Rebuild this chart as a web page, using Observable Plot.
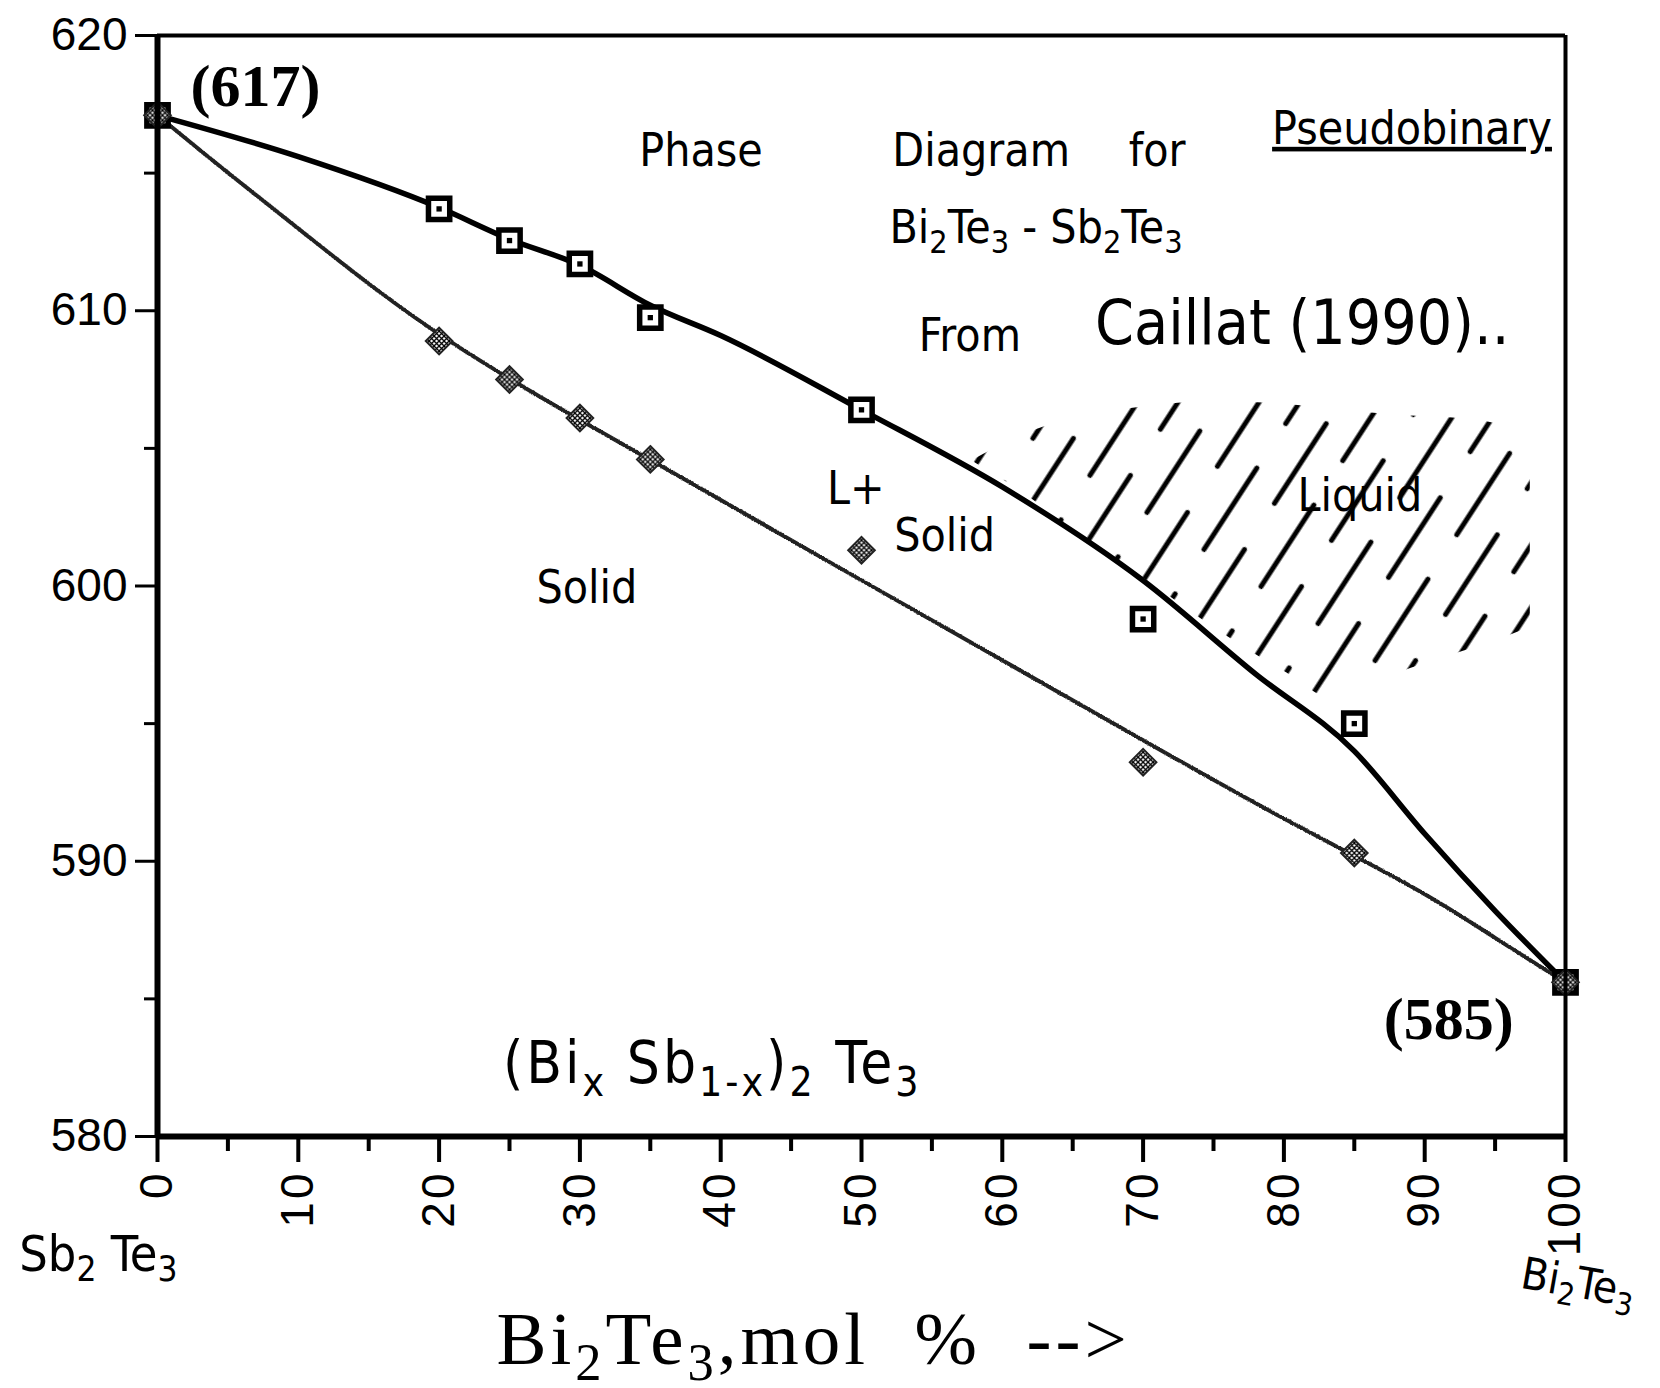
<!DOCTYPE html>
<html><head><meta charset="utf-8">
<script src="https://cdn.jsdelivr.net/npm/d3@7"></script>
<script src="https://cdn.jsdelivr.net/npm/@observablehq/plot@0.6"></script>
<style>html,body{margin:0;padding:0;background:#fff;} #chart{width:1660px;height:1388px;}</style>
</head><body><div id="chart"></div>
<script>
// ---- measured points (mol % Bi2Te3, temperature) ----
const liquidusX = [0, 20, 25, 30, 35, 50, 70, 85, 100];
const liquidusT = [617.1, 613.7, 612.55, 611.7, 609.75, 606.4, 598.8, 595.0, 585.6];
const solidusX  = [0, 20, 25, 30, 35, 50, 70, 85, 100];
const solidusT  = [617.1, 608.9, 607.5, 606.1, 604.6, 601.3, 593.6, 590.3, 585.6];

// ---- hand-drawn curves ----
const liqCurveX = [0, 10, 20, 25, 30, 35, 40, 50, 60, 70, 78, 85, 90, 95, 100];
const liqCurveT = [617.1, 615.6, 613.75, 612.6, 611.65, 610.2, 609.1, 606.4, 603.6, 600.2, 596.8, 594.0, 591.0, 588.2, 585.6];
const solCurveX = [0, 5, 10, 20, 35, 50, 60, 70, 80, 90, 95, 100];
const solCurveT = [617.1, 615.0, 613.0, 608.9, 604.6, 600.2, 597.3, 594.4, 591.5, 588.9, 587.2, 585.6];

// ---- hatched "Liquid" region ----
const hatchX  = [58, 62, 66, 70, 75, 80, 84, 88, 92, 95, 97.5];
const hatchLo = [604.5, 603.2, 601.6, 600.3, 598.5, 596.9, 595.8, 596.8, 597.5, 598.0, 598.5];
const hatchHi = [604.6, 605.6, 606.2, 606.5, 606.7, 606.6, 606.4, 606.2, 606.1, 605.9, 604.5];

// ---- ticks ----
const xTicks = [0, 10, 20, 30, 40, 50, 60, 70, 80, 90, 100];
const xMinor = [5, 15, 25, 35, 45, 55, 65, 75, 85, 95];
const yTicks = [580, 590, 600, 610, 620];
const yMinor = [585, 595, 605, 615];

// ---- annotations ----
const noteText = ["(617)", "(585)", "Phase", "Diagram", "for", "Pseudobinary",
  "Bi_2Te_3 - Sb_2Te_3", "From", "Caillat (1990)..", "L+", "Solid", "Solid", "Liquid",
  "(Bi_x Sb_{1-x})_2 Te_3", "Sb_2 Te_3", "Bi_2Te_3", "Bi_2Te_3,mol  %  -->"];
const noteX = [6.96, 91.7, 38.6, 58.5, 71.0, 89.1, 62.4, 57.7, 81.3, 49.6, 55.9, 30.5, 85.4, 39.4, -4.2, 100.9, 46.6];
const noteY = [618.15, 584.25, 615.8, 615.8, 615.8, 616.6, 613.0, 609.06, 609.5, 603.5, 601.8, 599.9, 603.25, 582.6, 575.7, 574.66, 572.6];

// ---- build tables ----
const liqPts = liquidusX.map((x, i) => ({x, t: liquidusT[i]}));
const solPts = solidusX.map((x, i) => ({x, t: solidusT[i]}));
const liqCurve = liqCurveX.map((x, i) => ({x, t: liqCurveT[i]}));
const solCurve = solCurveX.map((x, i) => ({x, t: solCurveT[i]}));
const hatch = hatchX.map((x, i) => ({x, lo: hatchLo[i], hi: hatchHi[i]}));
const notes = noteText.map((text, i) => ({i, text, x: noteX[i], y: noteY[i]}));

const HAND = "'Liberation Sans Narrow', 'DejaVu Sans Condensed', 'Noto Sans', sans-serif";
const SERIF = "'Liberation Serif', 'DejaVu Serif', serif";
const SANS = "'Liberation Sans', Arial, sans-serif";

const groups = [
  {idx: [0, 1], fontSize: 60, fontFamily: SERIF, fontWeight: "bold"},
  {idx: [2, 3, 4, 5, 6, 7, 9, 10, 11, 12], fontSize: 46, fontFamily: HAND},
  {idx: [13], fontSize: 58, fontFamily: HAND, spacing: 3},
  {idx: [14], fontSize: 50, fontFamily: HAND},
  {idx: [15], fontSize: 44, fontFamily: HAND, rotate: 10},
  {idx: [8], fontSize: 62, fontFamily: HAND},
  {idx: [16], fontSize: 75, fontFamily: SERIF, spacing: 4}
];
const noteMarks = groups.map(g => Plot.text(notes.filter(d => g.idx.includes(d.i)), {
  x: "x", y: "y", text: "text", fill: "#000",
  fontSize: g.fontSize, fontFamily: g.fontFamily, fontWeight: g.fontWeight || "normal",
  rotate: g.rotate || 0, ariaDescription: g.spacing ? "sp" + g.spacing : undefined
}));

const chart = Plot.plot({
  width: 1660, height: 1388,
  marginLeft: 157, marginRight: 95, marginTop: 35, marginBottom: 252,
  x: {domain: [0, 100]},
  y: {domain: [580, 620]},
  style: {background: "#fff", color: "#000", overflow: "visible"},
  marks: [
    Plot.areaY(hatch, {x: "x", y1: "lo", y2: "hi", fill: "url(#liqHatch)", curve: "monotone-x"}),
    Plot.line(liqCurve, {x: "x", y: "t", stroke: "#000", strokeWidth: 5.5, curve: "monotone-x"}),
    Plot.line(solCurve, {x: "x", y: "t", stroke: "#222", strokeWidth: 4, curve: "basis", ariaDescription: "solidus"}),
    Plot.dot(liqPts, {x: "x", y: "t", symbol: "square", r: 12, stroke: "#000", strokeWidth: 5.5, fill: "#fff"}),
    Plot.dot(liqPts, {x: "x", y: "t", symbol: "square", r: 3, fill: "#000"}),
    Plot.dot(solPts, {x: "x", y: "t", symbol: "diamond2", r: 12, fill: "url(#xHatch)", stroke: "#222", strokeWidth: 2}),
    Plot.ruleX([0], {stroke: "#000", strokeWidth: 6}),
    Plot.ruleY([580], {stroke: "#000", strokeWidth: 6}),
    Plot.ruleX([100], {stroke: "#000", strokeWidth: 4}),
    Plot.ruleY([620], {stroke: "#000", strokeWidth: 4}),
    Plot.axisX({ticks: xTicks, tickSize: 26, tickPadding: 8, tickRotate: -90, fontSize: 46, fontFamily: SANS, label: null, strokeWidth: 4, stroke: "#000"}),
    Plot.axisX({ticks: xMinor, tickSize: 15, tickFormat: () => "", label: null, strokeWidth: 4, stroke: "#000"}),
    Plot.axisY({ticks: yTicks, tickSize: 22, tickPadding: 8, fontSize: 46, fontFamily: SANS, label: null, strokeWidth: 3, stroke: "#000"}),
    Plot.axisY({ticks: yMinor, tickSize: 13, tickFormat: () => "", label: null, strokeWidth: 3, stroke: "#000"}),
    ...noteMarks
  ]
});

document.getElementById("chart").appendChild(chart);

// defs: patterns and rough-line filter
const svg = d3.select(chart);
const defs = svg.insert("defs", ":first-child");
const lh = defs.append("pattern").attr("id", "liqHatch").attr("patternUnits", "userSpaceOnUse")
  .attr("width", 68).attr("height", 150).attr("patternTransform", "rotate(33)");
lh.append("path").attr("d", "M17,8V105M51,83V178M51,-67V28")
  .attr("stroke", "#000").attr("stroke-width", 5).attr("stroke-linecap", "round").attr("fill", "none");
const xh = defs.append("pattern").attr("id", "xHatch").attr("patternUnits", "userSpaceOnUse")
  .attr("width", 5).attr("height", 5);
xh.append("rect").attr("width", 5).attr("height", 5).attr("fill", "#fff");
xh.append("path").attr("d", "M0,0L5,5M5,0L0,5").attr("stroke", "#000").attr("stroke-width", 1.3);
const f = defs.append("filter").attr("id", "rough").attr("x", "-5%").attr("y", "-5%").attr("width", "110%").attr("height", "110%");
f.append("feTurbulence").attr("type", "fractalNoise").attr("baseFrequency", 0.8).attr("numOctaves", 1).attr("seed", 3).attr("result", "n");
f.append("feDisplacementMap").attr("in", "SourceGraphic").attr("in2", "n").attr("scale", 4.5);
svg.selectAll('g[aria-description="solidus"]').attr("filter", "url(#rough)");

// letter spacing
svg.selectAll('g[aria-label="x-axis tick label"]').style("letter-spacing", "3px");
svg.selectAll('g[aria-description="sp3"]').style("letter-spacing", "3px");
svg.selectAll('g[aria-description="sp4"]').style("letter-spacing", "4px");

// underline
svg.selectAll("text").filter(function() { return this.textContent === "Pseudobinary"; })
  .style("text-decoration", "underline")
  .style("text-decoration-thickness", "4px")
  .style("text-underline-offset", "8px");

// subscripts
svg.selectAll("text").each(function() {
  const s = this.textContent;
  if (!s.includes("_")) return;
  const fs = parseFloat(getComputedStyle(this).fontSize) || 46;
  const parts = [];
  let buf = "", i = 0;
  while (i < s.length) {
    if (s[i] === "_") {
      if (buf) parts.push({t: buf, sub: false});
      buf = ""; i++;
      let sub;
      if (s[i] === "{") { const j = s.indexOf("}", i); sub = s.slice(i + 1, j); i = j + 1; }
      else { sub = s[i]; i++; }
      parts.push({t: sub, sub: true});
    } else { buf += s[i]; i++; }
  }
  if (buf) parts.push({t: buf, sub: false});
  this.textContent = "";
  let cur = 0;
  const shift = 0.21 * fs;
  for (const p of parts) {
    const ts = d3.select(this).append("tspan").text(p.t);
    const target = p.sub ? shift : 0;
    if (target !== cur) { ts.attr("dy", target - cur); cur = target; }
    if (p.sub) ts.attr("font-size", (0.7 * fs) + "px");
  }
});
</script>
</body></html>
